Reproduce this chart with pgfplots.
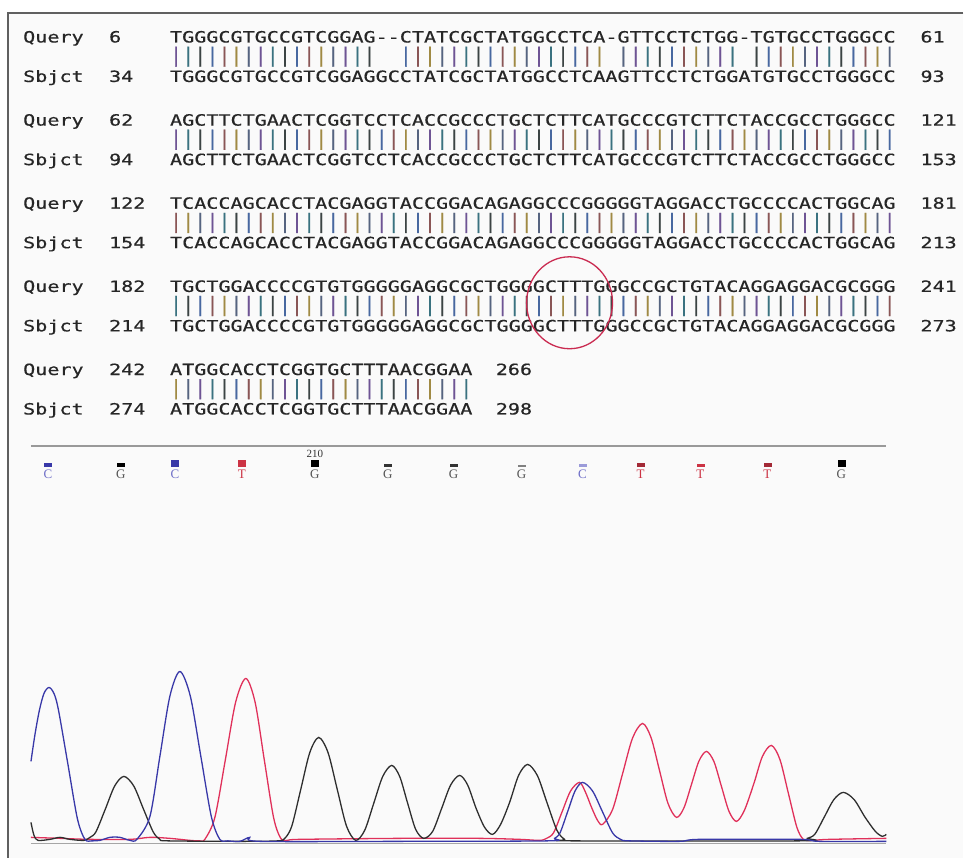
\documentclass[border=0pt]{standalone}
\usepackage{pgfplots}
\pgfplotsset{compat=1.18}
\usepackage{fontspec}
\setmainfont{Liberation Serif}
\newfontfamily\seqfont[FakeStretch=1.297, FakeBold=0.5]{DejaVu Sans Mono}
\definecolor{seqc}{HTML}{262626}
\definecolor{bc1}{HTML}{6E5494}
\definecolor{bc2}{HTML}{3A7280}
\definecolor{bc3}{HTML}{3C4444}
\definecolor{bc4}{HTML}{4868A0}
\definecolor{bc5}{HTML}{8A5656}
\definecolor{bc6}{HTML}{A08A44}
\definecolor{bc7}{HTML}{566480}
\definecolor{tblue}{HTML}{3838A8}
\definecolor{tblack}{HTML}{2E2E2E}
\definecolor{tred}{HTML}{E0305A}
\definecolor{lblue}{HTML}{7070C8}
\definecolor{lred}{HTML}{CC3344}
\definecolor{lgray}{HTML}{555555}
\definecolor{frame}{HTML}{606060}
\definecolor{bg}{HTML}{FAFAFA}
\newcount\barc
\def\B{\global\advance\barc by 1 \ifnum\barc>7 \global\barc=1 \fi\textcolor{bc\the\barc}{\scalebox{1}[1.3]{|}}}
\def\S{\phantom{|}}
\def\bars#1{\barsA#1\relax}
\def\barsA#1{\ifx#1\relax\else\ifx#1x\B\else\S\fi\expandafter\barsA\fi}
\def\sq{\seqfont\fontsize{15.5bp}{18bp}\selectfont}
\begin{document}
\begin{tikzpicture}
\begin{axis}[
  width=964bp, height=859bp, scale only axis,
  xmin=0, xmax=964, ymin=0, ymax=859, y dir=reverse,
  hide axis, clip=false,
  every node near coord/.append style={anchor=center, inner sep=0pt, font=\fontsize{13bp}{13bp}\selectfont},
]
\path[fill=white] (axis cs:0,0) rectangle (axis cs:964,859);
\path[fill=bg] (axis cs:8,13) rectangle (axis cs:964,859);
\draw[frame, line width=1.5bp] (axis cs:964,13) -- (axis cs:8,13) -- (axis cs:8,859);

% separator line and baseline
\addplot[color=gray!80, line width=2bp, mark=none] coordinates {(31,446) (887,446)};
\addplot[color=gray!70, line width=1.2bp, mark=none] coordinates {(31,844) (887,844)};

% red trace (T)
\addplot[smooth, color=tred, line width=1.3bp, mark=none] coordinates {
(31,838) (60,839) (90,840) (130,840) (150,838) (170,839) (190,841) (200,841.5) (205,840)
(215,818.2) (225.5,760.5) (235.8,702.8) (246,679) (255.3,702.8) (264.5,760.5) (273.8,818.2) (281,839) (288,841)
(300,840) (400,839) (480,839) (520,840) (540,841) (547,839)
(554,833.4) (562.5,812.5) (571,791.6) (580,783) (586,793) (592,808) (598,821) (603,825)
(613,810.3) (623,774.5) (633,738.7) (643,724) (651.5,738) (660,771) (668.5,804) (677,818)
(684.5,808.4) (692,785) (699.5,761.6) (707,752) (714.5,762.2) (722,787) (729.5,811.8) (737,822)
(745,810.9) (754.5,784) (763,757) (772,746) (780.5,760) (789,794) (797.5,828) (804,840) (812,841)
(830,840) (887,839)};
% black trace (G)
\addplot[smooth, color=tblack, line width=1.3bp, mark=none] coordinates {
(31,823) (34,836) (38,841) (50,840) (60,838) (70,840) (84,841)
(90,838) (96,832.5) (105.5,809.5) (114.8,786.5) (124,777) (133.8,786.5) (143.5,809.5) (153.3,832.5) (160,840) (168,841.5)
(240,842) (278,841.5) (285,839)
(292,826.8) (301,790) (310,753.2) (319,738) (328.3,753.2) (337.5,790) (346.8,826.8) (356,841)
(365,830.9) (374,804) (383,777.1) (392,766) (400,777.1) (408,804) (416,830) (424,839)
(433,832) (442,809) (451,785.6) (460,776) (468,785.6) (476.5,809) (485,828) (493,835)
(501,825) (510,803) (519,776) (528,765) (537.8,776.2) (547.5,803.5) (557.3,830.8) (565,840) (572,841.5)
(800,841.5) (808,839) (815.5,834.8) (825,817.5) (834.5,800.2) (844,793) (854.8,800.2) (865.5,817.5) (876,832) (883,837) (887,835)};
% blue trace (C)
\addplot[smooth, color=tblue, line width=1.3bp, mark=none] coordinates {
(31,762) (35,735) (39.5,710.5) (44,694) (49,688) (54,694) (58.5,710.5) (68,765) (77.5,819.5) (85,840) (92,841.5)
(100,841) (110,838) (120,838) (130,841) (137,840)
(150,817.2) (160,757) (170,696.8) (180,672) (190.5,696.8) (201,757) (211.5,817.2) (220,840) (228,841.5)
(240,842) (250,838) (260,842) (400,842) (548,841.5) (555,839)
(560.5,833.4) (568,812.5) (575.5,791.6) (583,783) (593,791.6) (603,812.5) (613,833.4) (621,840) (630,841.5)
(680,842) (700,840) (800,840) (820,842) (887,842)};

% base call markers
\addplot[only marks, mark=square*, mark size=3.5bp, mark options={yscale=0.85, fill=tblue, draw=tblue}] coordinates {(175,464)};
\addplot[only marks, mark=square*, mark size=3.5bp, mark options={yscale=0.45, fill=tblue, draw=tblue}] coordinates {(48,465)};
\addplot[only marks, mark=square*, mark size=3.5bp, mark options={yscale=0.3, fill=lblue!70, draw=lblue!70}] coordinates {(583,466)};
\addplot[only marks, mark=square*, mark size=3.5bp, mark options={yscale=0.85, fill=black, draw=black}] coordinates {(315,464) (842,464)};
\addplot[only marks, mark=square*, mark size=3.5bp, mark options={yscale=0.45, fill=black, draw=black}] coordinates {(121,465)};
\addplot[only marks, mark=square*, mark size=3.5bp, mark options={yscale=0.3, fill=black!80, draw=black!80}] coordinates {(388,466) (454,466)};
\addplot[only marks, mark=square*, mark size=3.5bp, mark options={yscale=0.25, fill=gray, draw=gray}] coordinates {(522,466)};
\addplot[only marks, mark=square*, mark size=3.5bp, mark options={yscale=0.85, fill=lred, draw=lred}] coordinates {(242,464)};
\addplot[only marks, mark=square*, mark size=3.5bp, mark options={yscale=0.45, fill=lred!80!black, draw=lred!80!black}] coordinates {(641,465) (768,465)};
\addplot[only marks, mark=square*, mark size=3.5bp, mark options={yscale=0.3, fill=lred, draw=lred}] coordinates {(701,466)};

% base call letters
\addplot[only marks, mark=*, mark size=0pt, draw=none, nodes near coords, point meta=explicit symbolic,
  every node near coord/.append style={text=lblue}] table[meta=l] {
x y l
48 475 C
175 475 C
583 475 C
};
\addplot[only marks, mark=*, mark size=0pt, draw=none, nodes near coords, point meta=explicit symbolic,
  every node near coord/.append style={text=lgray}] table[meta=l] {
x y l
121 475 G
315 475 G
388 475 G
454 475 G
522 475 G
842 475 G
};
\addplot[only marks, mark=*, mark size=0pt, draw=none, nodes near coords, point meta=explicit symbolic,
  every node near coord/.append style={text=lred}] table[meta=l] {
x y l
242 475 T
641 475 T
701 475 T
768 475 T
};
\node[font=\fontsize{11bp}{11bp}\selectfont, text=black!80, inner sep=0pt] at (axis cs:315,454) {210};

% alignment text
\begin{scope}[every node/.style={anchor=base west, inner sep=0pt, font=\sq, text=seqc}]
% block 1
\node at (axis cs:23,42.5) {Query};
\node at (axis cs:109,42.5) {6};
\node at (axis cs:170,42.5) {TGGGCGTGCCGTCGGAG-\kern0pt-CTATCGCTATGGCCTCA-GTTCCTCTGG-TGTGCCTGGGCC};
\node at (axis cs:921,42.5) {61};
\node at (axis cs:170,62) {\bars{xxxxxxxxxxxxxxxxxooxxxxxxxxxxxxxxxxxoxxxxxxxxxxoxxxxxxxxxxxx}};
\node at (axis cs:23,82) {Sbjct};
\node at (axis cs:109,82) {34};
\node at (axis cs:170,82) {TGGGCGTGCCGTCGGAGGCCTATCGCTATGGCCTCAAGTTCCTCTGGATGTGCCTGGGCC};
\node at (axis cs:921,82) {93};
% block 2
\node at (axis cs:23,125.7) {Query};
\node at (axis cs:109,125.7) {62};
\node at (axis cs:170,125.7) {AGCTTCTGAACTCGGTCCTCACCGCCCTGCTCTTCATGCCCGTCTTCTACCGCCTGGGCC};
\node at (axis cs:921,125.7) {121};
\node at (axis cs:170,145.2) {\bars{xxxxxxxxxxxxxxxxxxxxxxxxxxxxxxxxxxxxxxxxxxxxxxxxxxxxxxxxxxxx}};
\node at (axis cs:23,165.2) {Sbjct};
\node at (axis cs:109,165.2) {94};
\node at (axis cs:170,165.2) {AGCTTCTGAACTCGGTCCTCACCGCCCTGCTCTTCATGCCCGTCTTCTACCGCCTGGGCC};
\node at (axis cs:921,165.2) {153};
% block 3
\node at (axis cs:23,208.9) {Query};
\node at (axis cs:109,208.9) {122};
\node at (axis cs:170,208.9) {TCACCAGCACCTACGAGGTACCGGACAGAGGCCCGGGGGTAGGACCTGCCCCACTGGCAG};
\node at (axis cs:921,208.9) {181};
\node at (axis cs:170,228.4) {\bars{xxxxxxxxxxxxxxxxxxxxxxxxxxxxxxxxxxxxxxxxxxxxxxxxxxxxxxxxxxxx}};
\node at (axis cs:23,248.4) {Sbjct};
\node at (axis cs:109,248.4) {154};
\node at (axis cs:170,248.4) {TCACCAGCACCTACGAGGTACCGGACAGAGGCCCGGGGGTAGGACCTGCCCCACTGGCAG};
\node at (axis cs:921,248.4) {213};
% block 4
\node at (axis cs:23,292.1) {Query};
\node at (axis cs:109,292.1) {182};
\node at (axis cs:170,292.1) {TGCTGGACCCCGTGTGGGGGAGGCGCTGGGGCTTTGGGCCGCTGTACAGGAGGACGCGGG};
\node at (axis cs:921,292.1) {241};
\node at (axis cs:170,311.6) {\bars{xxxxxxxxxxxxxxxxxxxxxxxxxxxxxxxxxxxxxxxxxxxxxxxxxxxxxxxxxxxx}};
\node at (axis cs:23,331.6) {Sbjct};
\node at (axis cs:109,331.6) {214};
\node at (axis cs:170,331.6) {TGCTGGACCCCGTGTGGGGGAGGCGCTGGGGCTTTGGGCCGCTGTACAGGAGGACGCGGG};
\node at (axis cs:921,331.6) {273};
% block 5
\node at (axis cs:23,375.3) {Query};
\node at (axis cs:109,375.3) {242};
\node at (axis cs:170,375.3) {ATGGCACCTCGGTGCTTTAACGGAA};
\node at (axis cs:496,375.3) {266};
\node at (axis cs:170,394.8) {\bars{xxxxxxxxxxxxxxxxxxxxxxxxx}};
\node at (axis cs:23,414.8) {Sbjct};
\node at (axis cs:109,414.8) {274};
\node at (axis cs:170,414.8) {ATGGCACCTCGGTGCTTTAACGGAA};
\node at (axis cs:496,414.8) {298};
\end{scope}

% red circle
\draw[color=tred!90!black, line width=1.3bp] (axis cs:570,303) ellipse [x radius=43bp, y radius=46bp];
\end{axis}
\end{tikzpicture}
\end{document}
